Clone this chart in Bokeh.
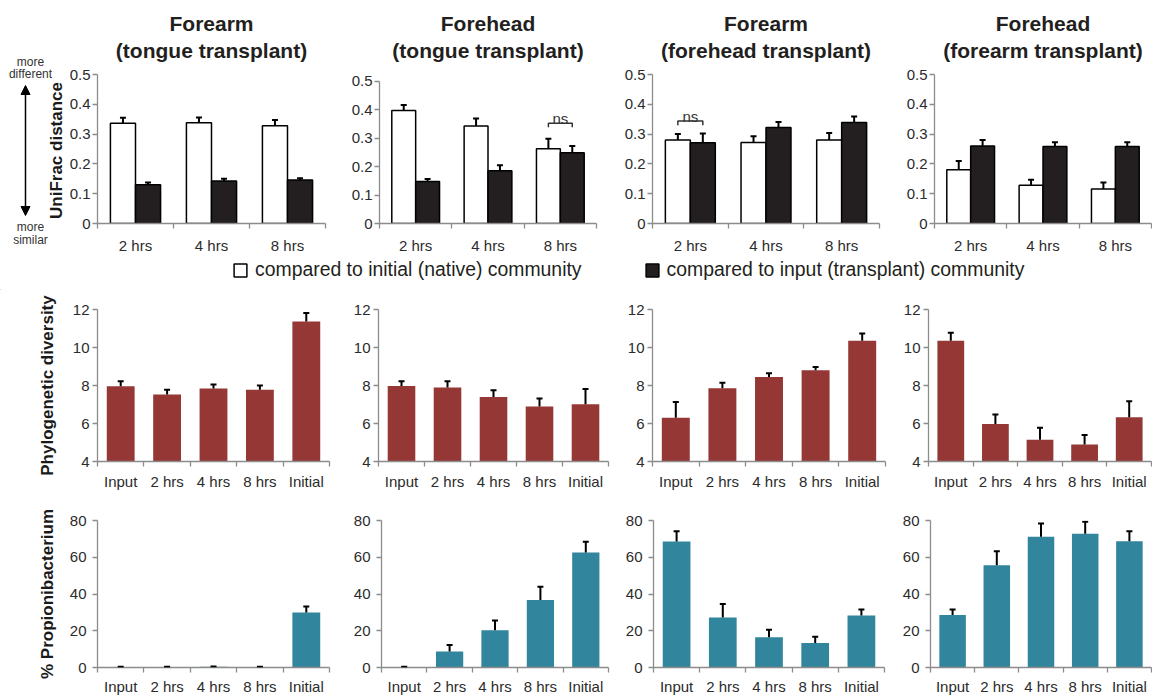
import math
from bokeh.plotting import figure
from bokeh.layouts import row, column
from bokeh.models import (Range1d, FixedTicker, CustomJSTickFormatter, Whisker, TeeHead,
                          ColumnDataSource, Title, Arrow, NormalHead, Legend, LegendItem)
from bokeh.embed import file_html
from bokeh.resources import INLINE
from bokeh.core.properties import value

FONT = "Liberation Sans"
RED = "#953735"
TEAL = "#31859C"
DARK = "#231F20"
AXIS = "#8c8c8c"
TXT = "#2b2b2b"

# ---------------- data ----------------
time_labels = ["2 hrs", "4 hrs", "8 hrs"]
cond_labels = ["Input", "2 hrs", "4 hrs", "8 hrs", "Initial"]

panel_main = ["Forearm", "Forehead", "Forearm", "Forehead"]
panel_sub = ["(tongue transplant)", "(tongue transplant)", "(forehead transplant)", "(forearm transplant)"]

# UniFrac distance compared to initial (native) community
unifrac_native = [[0.336, 0.338, 0.328], [0.398, 0.343, 0.263], [0.280, 0.272, 0.280], [0.180, 0.128, 0.116]]
unifrac_native_err = [[0.019, 0.018, 0.019], [0.019, 0.027, 0.035], [0.020, 0.021, 0.024], [0.030, 0.019, 0.022]]
# UniFrac distance compared to input (transplant) community
unifrac_input = [[0.130, 0.143, 0.146], [0.148, 0.186, 0.249], [0.271, 0.322, 0.339], [0.260, 0.258, 0.258]]
unifrac_input_err = [[0.008, 0.007, 0.006], [0.009, 0.019, 0.024], [0.031, 0.019, 0.020], [0.020, 0.015, 0.015]]

# Phylogenetic diversity
pd_mean = [[7.96, 7.52, 7.84, 7.77, 11.37], [7.98, 7.89, 7.40, 6.90, 7.01],
           [6.30, 7.86, 8.45, 8.80, 10.35], [10.36, 5.97, 5.15, 4.90, 6.33]]
pd_err = [[0.27, 0.25, 0.21, 0.23, 0.45], [0.25, 0.34, 0.35, 0.41, 0.81],
          [0.83, 0.28, 0.19, 0.17, 0.39], [0.41, 0.50, 0.63, 0.49, 0.84]]

# % Propionibacterium
prop_mean = [[0.3, 0.3, 0.4, 0.3, 30.0], [0.3, 8.7, 20.3, 36.8, 62.6],
             [68.6, 27.2, 16.5, 13.3, 28.3], [28.6, 55.7, 71.2, 72.8, 68.7]]
prop_err = [[0.1, 0.1, 0.1, 0.1, 3.2], [0.1, 3.6, 5.3, 7.1, 5.8],
            [5.5, 7.3, 4.1, 3.4, 3.2], [3.0, 7.6, 7.2, 6.5, 5.5]]

unifrac_ticks = [0, 0.1, 0.2, 0.3, 0.4, 0.5]
pd_ticks = [4, 6, 8, 10, 12]
prop_ticks = [0, 20, 40, 60, 80]

# "ns" brackets: panel, time index, bracket level
ns_panel = [1, 2]
ns_time = [2, 0]
ns_level = [0.353, 0.344]

legend_labels = ["compared to initial (native) community", "compared to input (transplant) community"]
axis_labels = ["UniFrac distance", "Phylogenetic diversity", "% Propionibacterium"]
scale_words = ["more", "different", "more", "similar"]

NUMFMT = CustomJSTickFormatter(code="return String(Math.round(tick*1000)/1000)")


def base_fig(width, height, left, right, top, bottom, ncat, yr, yticks, labels,
             y_standoff, x_standoff):
    p = figure(width=width, height=height, x_range=Range1d(0, ncat), y_range=Range1d(*yr),
               toolbar_location=None, tools="", output_backend="svg",
               min_border_left=left, min_border_right=right,
               min_border_top=top, min_border_bottom=bottom)
    p.outline_line_color = None
    p.grid.visible = False
    xa = p.xaxis[0]
    ya = p.yaxis[0]
    for ax in (xa, ya):
        ax.axis_line_color = AXIS
        ax.axis_line_width = 1.3
        ax.major_label_text_font = FONT
        ax.major_label_text_font_size = "15px"
        ax.major_label_text_color = TXT
    ya.ticker = FixedTicker(ticks=yticks, minor_ticks=[])
    ya.formatter = NUMFMT
    ya.bounds = (yticks[0], yticks[-1])
    ya.major_tick_out = 5
    ya.major_tick_in = 0
    ya.major_tick_line_color = AXIS
    ya.major_tick_line_width = 1.3
    ya.minor_tick_line_color = None
    ya.major_label_standoff = y_standoff
    xa.ticker = FixedTicker(ticks=[i + 0.5 for i in range(ncat)], minor_ticks=list(range(ncat + 1)))
    xa.formatter = CustomJSTickFormatter(args=dict(labels=labels),
                                         code="return labels[Math.floor(tick)]")
    xa.major_tick_line_color = None
    xa.major_tick_out = 0
    xa.major_tick_in = 0
    xa.minor_tick_out = 5
    xa.minor_tick_in = 0
    xa.minor_tick_line_color = AXIS
    xa.minor_tick_line_width = 1.3
    xa.major_label_standoff = x_standoff
    return p


def add_errors(p, src):
    w = Whisker(source=src, base="x", lower="top", upper="upper", dimension="height",
                upper_head=TeeHead(size=6, line_width=2, line_color="black"),
                lower_head=None, line_width=2, line_color="black", level="annotation")
    p.add_layout(w)


def style_ylabel(p, text, standoff):
    p.yaxis.axis_label = text
    p.yaxis.axis_label_text_font = FONT
    p.yaxis.axis_label_text_font_size = "17px"
    p.yaxis.axis_label_text_font_style = "bold"
    p.yaxis.axis_label_text_color = "#1a1a1a"
    p.yaxis.axis_label_standoff = standoff


TOP_H = 256

# ---------------- annotation column (top-left) ----------------
ann = figure(width=66, height=TOP_H, x_range=Range1d(0, 66), y_range=Range1d(TOP_H, 0),
             toolbar_location=None, tools="", output_backend="svg",
             x_axis_location=None, y_axis_location=None, min_border=0)
ann.outline_line_color = None
ann.grid.visible = False
ann.text(x=[30, 30, 30, 30], y=[61, 73, 226, 239], text=scale_words, text_align="center",
         text_baseline="middle", text_font=value(FONT), text_font_size="12px", text_color="#333333")
ann.add_layout(Arrow(x_start=25, y_start=215, x_end=25, y_end=85,
                     start=NormalHead(size=9, fill_color="black", line_color="black"),
                     end=NormalHead(size=9, fill_color="black", line_color="black"),
                     line_width=1.5, line_color="black"))
ann.text(x=[56], y=[150], text=[axis_labels[0]], angle=math.pi / 2, text_align="center",
         text_baseline="middle", text_font=value(FONT), text_font_size="17px",
         text_font_style="bold", text_color="#1a1a1a")

# ---------------- top row ----------------
top_w = [279, 273, 277, 257]
top_l = [30, 34, 34, 39]
top_r = [20, 22, 16, 1]
# the second panel's axis is a little shorter (its 0.5 tick sits lower)
top_ymax = [0.5, 0.5 * 150 / 143, 0.5, 0.5]
top_row = []
for k in range(4):
    p = base_fig(top_w[k], TOP_H, top_l[k], top_r[k], 74, TOP_H - 224, 3, (0, top_ymax[k]),
                 unifrac_ticks, time_labels, 2, 8)
    # spacer between frame and subtitle, then subtitle, then main title
    p.add_layout(Title(text=" ", text_font_size="2px", standoff=6), "above")
    p.add_layout(Title(text=panel_sub[k], align="center", text_font=FONT, text_font_size="21px",
                       text_font_style="bold", text_color=DARK, standoff=5), "above")
    p.add_layout(Title(text=panel_main[k], align="center", text_font=FONT, text_font_size="21px",
                       text_font_style="bold", text_color=DARK, standoff=0), "above")
    xs = [i + 0.5 for i in range(3)]
    src_n = ColumnDataSource(dict(
        x=[x - 0.165 for x in xs], top=unifrac_native[k],
        upper=[v + e for v, e in zip(unifrac_native[k], unifrac_native_err[k])]))
    src_i = ColumnDataSource(dict(
        x=[x + 0.165 for x in xs], top=unifrac_input[k],
        upper=[v + e for v, e in zip(unifrac_input[k], unifrac_input_err[k])]))
    p.vbar(x="x", top="top", bottom=0, width=0.33, source=src_n,
           fill_color="white", line_color="black", line_width=1.5)
    p.vbar(x="x", top="top", bottom=0, width=0.33, source=src_i,
           fill_color=DARK, line_color="black", line_width=1.5)
    add_errors(p, src_n)
    add_errors(p, src_i)
    for j in range(len(ns_panel)):
        if ns_panel[j] == k:
            t = ns_time[j]
            x0 = t + 0.5 - 0.165
            x1 = t + 0.5 + 0.165
            yh = ns_level[j]
            yl = yh - 0.014
            p.line([x0, x0, x1, x1], [yl, yh, yh, yl], line_color="#333333", line_width=1.5)
            p.text(x=[(x0 + x1) / 2], y=[yh + 0.016], text=["ns"], text_align="center",
                   text_baseline="alphabetic", text_font=value(FONT), text_font_size="15px",
                   text_color="#333333")
    top_row.append(p)

# ---------------- legend row ----------------
leg = figure(width=1152, height=34, x_range=Range1d(0, 1), y_range=Range1d(0, 1),
             toolbar_location=None, tools="", output_backend="svg",
             x_axis_location=None, y_axis_location=None, min_border=0)
leg.outline_line_color = None
leg.grid.visible = False
# legend proxies (placed far outside the visible ranges, only their swatches are shown)
proxy1 = ColumnDataSource(dict(x=[-50], top=[-50]))
proxy2 = ColumnDataSource(dict(x=[-50], top=[-50]))
r1 = leg.vbar(x="x", top="top", bottom=-51, width=0.1, source=proxy1, fill_color="white",
              line_color="black", line_width=1.5)
r2 = leg.vbar(x="x", top="top", bottom=-51, width=0.1, source=proxy2, fill_color=DARK,
              line_color="black", line_width=1.5)
legend = Legend(items=[LegendItem(label=legend_labels[0], renderers=[r1]),
                       LegendItem(label=legend_labels[1], renderers=[r2])],
                orientation="horizontal", location=(232, 9), glyph_width=16, glyph_height=16,
                label_text_font=FONT, label_text_font_size="19.4px", label_text_color=DARK,
                spacing=62, padding=0, margin=0, border_line_color=None,
                background_fill_alpha=0, label_standoff=7, label_height=16)
leg.add_layout(legend)

# ---------------- middle row ----------------
mid_w = [350, 268, 282, 252]
mid_l = [97, 28, 34, 27]
mid_r = [21, 10, 15, 1]
mid_row = []
for k in range(4):
    p = base_fig(mid_w[k], 210, mid_l[k], mid_r[k], 19, 39, 5, (4, 12),
                 pd_ticks, cond_labels, 3, 6)
    src = ColumnDataSource(dict(x=[i + 0.5 for i in range(5)], top=pd_mean[k],
                                upper=[v + e for v, e in zip(pd_mean[k], pd_err[k])]))
    p.vbar(x="x", top="top", bottom=4, width=0.6, source=src, fill_color=RED, line_color=None)
    add_errors(p, src)
    if k == 0:
        style_ylabel(p, axis_labels[1], 13)
    mid_row.append(p)

# ---------------- bottom row ----------------
bot_w = [350, 268, 281, 253]
bot_l = [97, 28, 35, 27]
bot_r = [21, 10, 15, 1]
bot_row = []
for k in range(4):
    p = base_fig(bot_w[k], 197, bot_l[k], bot_r[k], 20, 29, 5, (0, 80),
                 prop_ticks, cond_labels, 6, 5)
    src = ColumnDataSource(dict(x=[i + 0.5 for i in range(5)], top=prop_mean[k],
                                upper=[v + e for v, e in zip(prop_mean[k], prop_err[k])]))
    p.vbar(x="x", top="top", bottom=0, width=0.6, source=src, fill_color=TEAL, line_color=None)
    add_errors(p, src)
    if k == 0:
        style_ylabel(p, axis_labels[2], 10)
    bot_row.append(p)

layout = column(row(column(ann), row(*top_row)), leg, row(*mid_row), row(*bot_row))
open("out.html", "w").write(file_html(layout, INLINE))
